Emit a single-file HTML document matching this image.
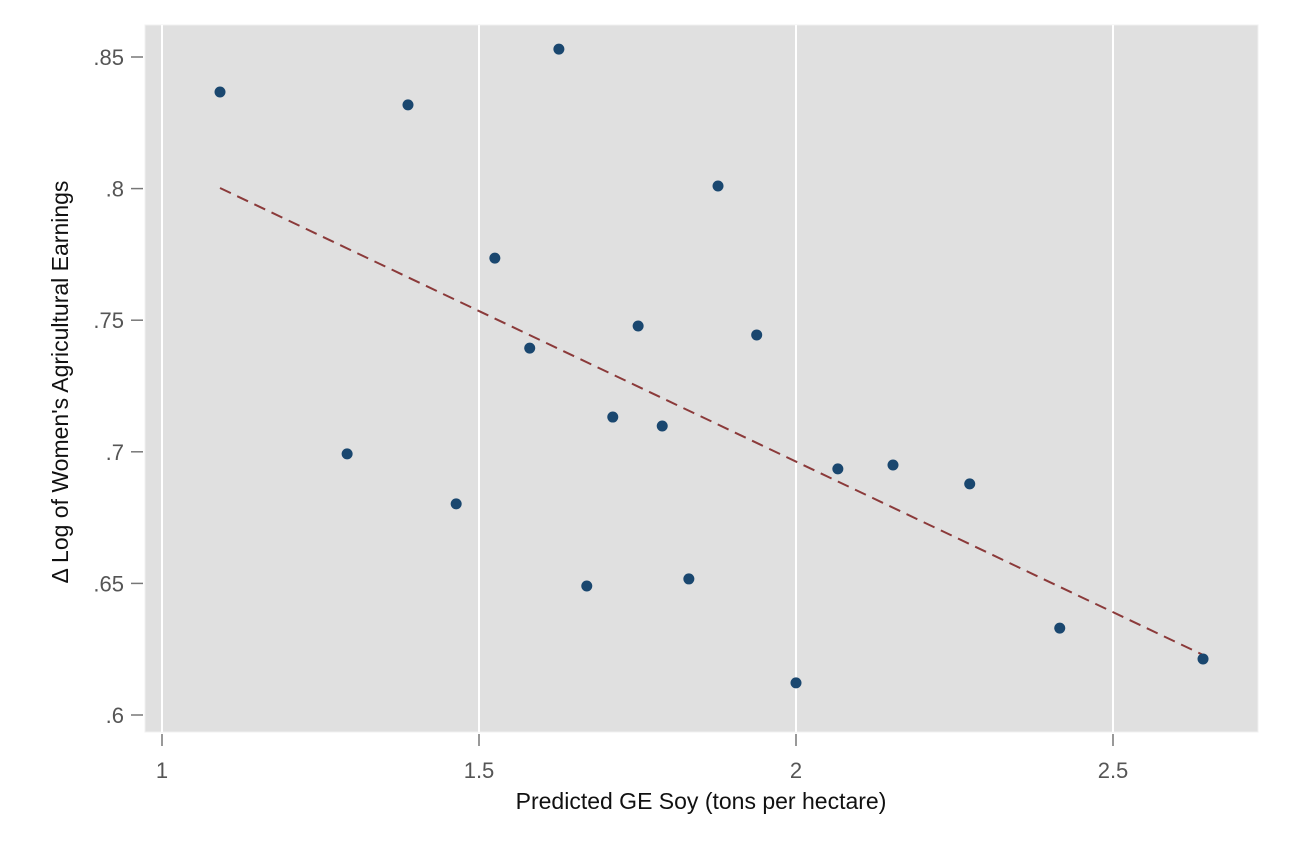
<!DOCTYPE html>
<html><head><meta charset="utf-8"><style>body{margin:0;background:#fff}svg{display:block;font-family:"Liberation Sans",sans-serif}</style></head>
<body>
<svg id="chart" width="1290" height="860">
<rect x="145" y="25" width="1113" height="707" fill="#e0e0e0" stroke="#f0f0f0"/>
<g id="grid"></g><g id="axes"></g><g id="marks"></g>
<text x="701" y="809" font-size="23" text-anchor="middle" fill="#111">Predicted GE Soy (tons per hectare)</text>
<text transform="translate(68,382) rotate(-90)" font-size="23" text-anchor="middle" fill="#111">Δ Log of Women's Agricultural Earnings</text>
</svg>
<script>
const xs=[1.0915,1.388,1.626,1.877,1.525,1.751,1.580,1.938,1.711,1.789,1.292,1.464,2.066,2.153,2.274,1.670,1.831,2.0,2.416,2.642];
const ys=[.8367,.8318,.853,.801,.7736,.7478,.7394,.7444,.7132,.7098,.6992,.6802,.6935,.695,.6878,.649,.6517,.6122,.633,.6213];
const xTicks=[1,1.5,2,2.5];
const xTickLabels=["1","1.5","2","2.5"];
const yTicks=[.6,.65,.7,.75,.8,.85];
const yTickLabels=[".6",".65",".7",".75",".8",".85"];
const X=v=>162+(v-1)*634, Y=v=>57+(.85-v)*2632;
const NS="http://www.w3.org/2000/svg";
function mk(p,t,a){const e=document.createElementNS(NS,t);for(const k in a)e.setAttribute(k,a[k]);document.getElementById(p).appendChild(e);return e;}
xTicks.forEach((v,i)=>{
 let g=mk('grid','line',{x1:X(v),x2:X(v),y1:25,y2:732,stroke:'#fff','stroke-width':2});
 
 
 let t=mk('axes','line',{x1:X(v),x2:X(v),y1:734,y2:746,stroke:'#777','stroke-width':1.5});
 
 
 let l=mk('axes','text',{x:X(v),y:778,'font-size':22,'text-anchor':'middle',fill:'#555'});
 l.textContent=xTickLabels[i];
 
 
});
yTicks.forEach((v,i)=>{
 let t=mk('axes','line',{x1:131,x2:143,y1:Y(v),y2:Y(v),stroke:'#777','stroke-width':1.5});
 
 
 let l=mk('axes','text',{x:124,y:Y(v)+8,'font-size':22,'text-anchor':'end',fill:'#555'});
 l.textContent=yTickLabels[i];
 
 
});
const n=xs.length,mx=xs.reduce((a,b)=>a+b)/n,my=ys.reduce((a,b)=>a+b)/n;
let sxy=0,sxx=0;xs.forEach((x,i)=>{sxy+=(x-mx)*(ys[i]-my);sxx+=(x-mx)**2;});
const b=sxy/sxx,a=my-b*mx,x0=Math.min(...xs),x1=Math.max(...xs);
let fl=mk('marks','line',{x1:X(x0),y1:Y(a+b*x0),x2:X(x1),y2:Y(a+b*x1),stroke:'#8b3a3a','stroke-width':2,'stroke-dasharray':'12,7'});


xs.forEach((x,i)=>{
 let c=mk('marks','circle',{cx:X(x),cy:Y(ys[i]),r:5.5,fill:'#1a476f'});
 
 
});
</script>
</body></html>
